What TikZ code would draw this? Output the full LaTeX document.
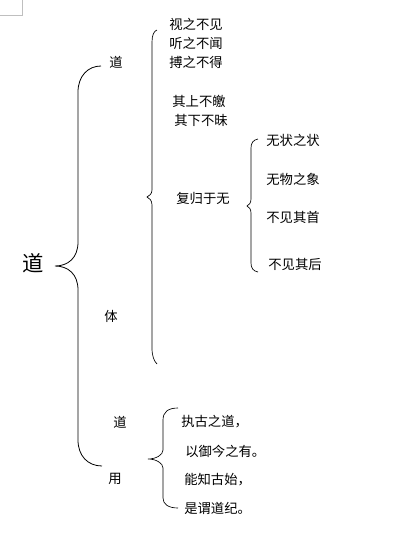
\documentclass[tikz,border=0pt]{standalone}
\usepackage{fontspec}
\setmainfont{Noto Sans CJK SC}
\usepackage{xcolor}

\begin{document}
\begin{tikzpicture}[x=0.75pt,y=-0.75pt]

      \useasboundingbox (0,0) rectangle (400,533);
      \draw[gray!50, thin] (22,0) -- (22,15) -- (0,15);

      % braces
      \draw[black, line width=0.6pt] (101,66) .. controls (88,66) and (78,76) .. (78,92) -- (78,242)
            .. controls (78,258) and (68,266) .. (55,266) .. controls (68,266) and (78,274) .. (78,290)
            -- (78,440) .. controls (78,456) and (88,466) .. (102,466);
      \draw[black, line width=0.5pt] (157,30) .. controls (154,31) and (152,35) .. (152,42) -- (152,190)
            .. controls (152,194) and (149,196) .. (147,197) .. controls (149,198) and (152,200) .. (152,205)
            -- (152,348) .. controls (152,356) and (154,361) .. (157,364);
      \draw[black, line width=0.5pt] (258,139) .. controls (253,140) and (251,143) .. (251,148) -- (251,199)
            .. controls (251,203) and (249,205) .. (247,206) .. controls (249,207) and (251,209) .. (251,213)
            -- (251,263) .. controls (251,268) and (253,271) .. (258,272);
      \draw[black, line width=0.5pt] (178,408) .. controls (168,408) and (163,412) .. (163,420) -- (163,450)
            .. controls (163,455) and (156,459) .. (148,459) .. controls (156,459) and (163,463) .. (163,468)
            -- (163,498) .. controls (163,504) and (168,508) .. (178,508);

      \node[black, inner sep=0pt, font=\fontsize{16pt}{16pt}\selectfont] (dao) at (33,263) {道};

      \node[black, inner sep=0pt] (daoti) at (116,62) {道};
      \node[black, inner sep=0pt] (ti) at (111,316) {体};
      \node[black, inner sep=0pt] (daoyong) at (120,422) {道};
      \node[black, inner sep=0pt] (yong) at (115,479) {用};

      \node[black, inner sep=0pt] (shi) at (196,24) {视之不见};
      \node[black, inner sep=0pt] (ting) at (196,43) {听之不闻};
      \node[black, inner sep=0pt] (bo) at (196,62) {搏之不得};
      \node[black, inner sep=0pt] (shang) at (199,101) {其上不皦};
      \node[black, inner sep=0pt] (xia) at (201,120) {其下不昧};
      \node[black, inner sep=0pt] (fugui) at (203,198) {复归于无};

      \node[black, inner sep=0pt] (zhuang) at (293,140) {无状之状};
      \node[black, inner sep=0pt] (xiang) at (293,179) {无物之象};
      \node[black, inner sep=0pt] (shou) at (293,217) {不见其首};
      \node[black, inner sep=0pt] (hou) at (295,264) {不见其后};

      \node[black, inner sep=0pt, anchor=west] (zhi) at (181,422) {执古之道，};
      \node[black, inner sep=0pt, anchor=west] (yu) at (185,451) {以御今之有。};
      \node[black, inner sep=0pt, anchor=west] (neng) at (184,480) {能知古始，};
      \node[black, inner sep=0pt, anchor=west] (wei) at (184,508) {是谓道纪。};

    \end{tikzpicture}
\end{document}
